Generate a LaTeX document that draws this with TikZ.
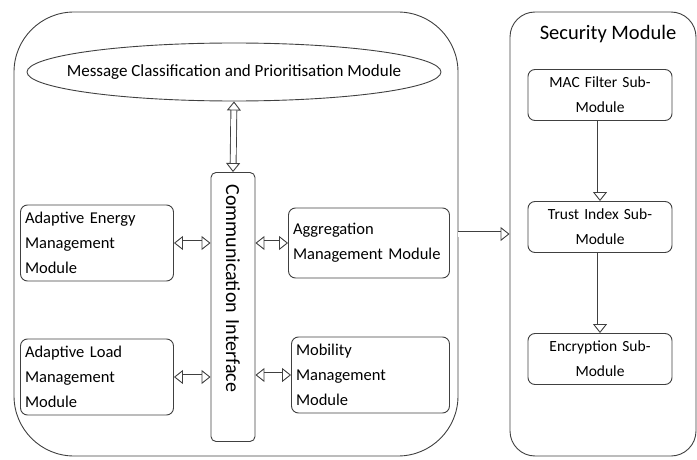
\documentclass[tikz,border=0pt]{standalone}
\usepackage{fontspec}
\setmainfont{Carlito}
\usetikzlibrary{arrows.meta,positioning,shapes.geometric,calc}

\tikzset{
  module/.style={draw=black!75, line width=0.9pt, rounded corners=7pt, inner xsep=4.5pt, inner ysep=2pt,
    font=\fontsize{16.5}{25}\selectfont},
  sidemod/.style={module, text width=144pt, align=left, minimum height=76pt},
  submod/.style={module, text width=135pt, align=center, minimum height=51pt, font=\fontsize{15.5}{25}\selectfont},
  holder/.style={draw=black!75, line width=0.9pt, inner sep=0pt},
  shaft/.style={draw=black!75, line width=0.9pt, double=white, double distance=5pt},
  blockarrow/.style={shaft, -{Triangle[open,length=9pt,width=14pt]}},
  twoway/.style={shaft, {Triangle[open,length=9pt,width=14pt]}-{Triangle[open,length=9pt,width=14pt]}}
}

\begin{document}
\begin{tikzpicture}[x=1pt,y=-1pt]
  \useasboundingbox (0,0) rectangle (697,460);

  % containers
  \node[holder, rounded corners=60pt, minimum width=444pt, minimum height=444pt] (core) at (236,234) {};
  \node[holder, rounded corners=25pt, minimum width=186pt, minimum height=444pt] (sec) at (603,234) {};

  % left part
  \node[holder, ellipse, minimum width=414pt, minimum height=58pt, font=\fontsize{17}{20}\selectfont]
    (mcp) at (234,72) {\makebox[0pt]{Message Classification and Prioritisation Module}};
  \node[module, rounded corners=5pt, rotate=-90, text width=245pt, align=left, inner xsep=12pt,
    minimum height=44pt, inner ysep=0pt, font=\fontsize{20}{22}\selectfont]
    (ci) at (233,307) {Communication Interface};

  \node[sidemod] (aem) at (97,243) {Adaptive Energy\\Management\\Module};
  \node[sidemod, text width=152pt, minimum height=70pt] (agm) at (369,243) {Aggregation\\Management Module};
  \node[sidemod] (alm) at (97,377) {Adaptive Load\\Management\\Module};
  \node[sidemod, text width=149pt] (mom) at (370.5,375) {Mobility\\Management\\Module};

  % security part
  \node[font=\fontsize{20.5}{22}\selectfont] (sect) at (608,34) {Security Module};
  \node[submod] (mac) at (600,95) {MAC Filter Sub-\\Module};
  \node[submod] (tim) at (600,227) {Trust Index Sub-\\Module};
  \node[submod] (enc) at (600,359) {Encryption Sub-\\Module};

  % arrows (ci is turned: its west side is on top, its south side on the left)
  \draw[twoway] (mcp.south) -- (ci.west);
  \draw[twoway] (aem.east) -- (ci.south |- aem.east);
  \draw[twoway] (ci.north |- agm.west) -- (agm.west);
  \draw[twoway] (alm.east) -- (ci.south |- alm.east);
  \draw[twoway] (ci.north |- mom.west) -- (mom.west);
  \draw[blockarrow] (core.east) -- (sec.west);
  \draw[blockarrow] (mac.south) -- (tim.north);
  \draw[blockarrow] (tim.south) -- (enc.north);
\end{tikzpicture}
\end{document}
